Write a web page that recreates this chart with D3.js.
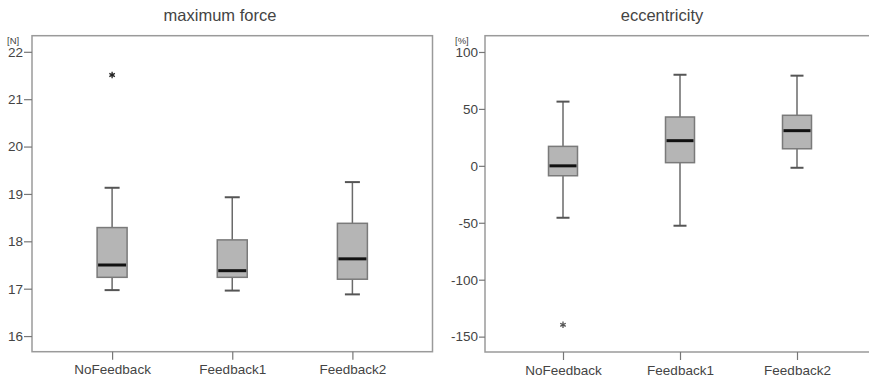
<!DOCTYPE html>
<html>
<head>
<meta charset="utf-8">
<script src="https://cdn.jsdelivr.net/npm/d3@7"></script>
<style>
  html, body { margin: 0; padding: 0; background: #fff; }
  svg { display: block; }
  text { font-family: "Liberation Sans", Arial, sans-serif; }
</style>
</head>
<body>
<svg id="chart" width="869" height="379"></svg>
<script>
// Groups shown on both panels
const categories = ["NoFeedback", "Feedback1", "Feedback2"];

// Maximum force [N]: whisker low, Q1, median, Q3, whisker high
const forceLow    = [16.97, 16.96, 16.88];
const forceQ1     = [17.24, 17.24, 17.20];
const forceMedian = [17.50, 17.38, 17.63];
const forceQ3     = [18.29, 18.03, 18.38];
const forceHigh   = [19.13, 18.93, 19.25];
const forceOutliers = [[21.51], [], []];
const forceTicks  = [16, 17, 18, 19, 20, 21, 22];

// Eccentricity [%]
const eccLow    = [-45.6, -52.6, -1.7];
const eccQ1     = [-8.7, 2.8, 15.0];
const eccMedian = [0.0, 22.1, 30.9];
const eccQ3     = [17.1, 42.9, 44.4];
const eccHigh   = [56.4, 80.0, 79.2];
const eccOutliers = [[-139.6], [], []];
const eccTicks  = [-150, -100, -50, 0, 50, 100];

const svg = d3.select("#chart");

function panel(opts) {
  const { title, unit, titleX, frame, domain, ticks, low, q1, med, q3, high, outliers, boxW, capW, tickLen } = opts;
  const g = svg.append("g");

  const x = d3.scalePoint().domain(categories).range([frame.x0, frame.x1]).padding(2 / 3);
  const y = d3.scaleLinear().domain(domain).range([frame.y1, frame.y0]);

  // title
  g.append("text")
    .attr("x", titleX).attr("y", 21)
    .attr("text-anchor", "middle")
    .attr("font-size", 16.5)
    .attr("fill", "#444")
    .text(title);

  // frame
  g.append("rect")
    .attr("x", frame.x0).attr("y", frame.y0)
    .attr("width", frame.x1 - frame.x0).attr("height", frame.y1 - frame.y0)
    .attr("fill", "none").attr("stroke", "#9a9a9a").attr("stroke-width", 1.5);

  // y axis (plain hyphen for negative numbers)
  const yAxis = g.append("g")
    .attr("transform", `translate(${frame.x0},0)`)
    .call(d3.axisLeft(y).tickValues(ticks).tickFormat(d => String(d)).tickSize(tickLen).tickPadding(1));
  yAxis.select(".domain").remove();
  yAxis.selectAll(".tick line").attr("stroke", "#777").attr("stroke-width", 1.2);
  yAxis.selectAll(".tick text").attr("font-size", 13.5).attr("fill", "#444")
    .attr("font-family", "Liberation Sans, Arial, sans-serif");

  // unit label
  g.append("text")
    .attr("x", opts.unitX).attr("y", 43.5)
    .attr("font-size", 9.5).attr("fill", "#444")
    .text(unit);

  // x axis
  const xAxis = g.append("g")
    .attr("transform", `translate(0,${frame.y1})`)
    .call(d3.axisBottom(x).tickSize(8).tickPadding(5));
  xAxis.select(".domain").remove();
  xAxis.selectAll(".tick line").attr("stroke", "#777").attr("stroke-width", 1.2);
  xAxis.selectAll(".tick text").attr("font-size", 13.5).attr("fill", "#444")
    .attr("font-family", "Liberation Sans, Arial, sans-serif");

  const rows = categories.map((c, i) => ({ c, low: low[i], q1: q1[i], med: med[i], q3: q3[i], high: high[i], out: outliers[i] }));
  const box = g.selectAll(".box").data(rows).enter().append("g").attr("class", "box");

  // whiskers
  box.append("line")
    .attr("x1", d => x(d.c)).attr("x2", d => x(d.c))
    .attr("y1", d => y(d.high)).attr("y2", d => y(d.q3))
    .attr("stroke", "#6a6a6a").attr("stroke-width", 1.5);
  box.append("line")
    .attr("x1", d => x(d.c)).attr("x2", d => x(d.c))
    .attr("y1", d => y(d.q1)).attr("y2", d => y(d.low))
    .attr("stroke", "#6a6a6a").attr("stroke-width", 1.5);
  // caps
  ["high", "low"].forEach(k => {
    box.append("line")
      .attr("x1", d => x(d.c) - capW / 2).attr("x2", d => x(d.c) + capW / 2)
      .attr("y1", d => y(d[k])).attr("y2", d => y(d[k]))
      .attr("stroke", "#555").attr("stroke-width", 2);
  });
  // box
  box.append("rect")
    .attr("x", d => x(d.c) - boxW / 2).attr("width", boxW)
    .attr("y", d => y(d.q3)).attr("height", d => y(d.q1) - y(d.q3))
    .attr("fill", "#b5b5b5").attr("stroke", "#7a7a7a").attr("stroke-width", 1.5);
  // median
  box.append("line")
    .attr("x1", d => x(d.c) - boxW / 2 + 1).attr("x2", d => x(d.c) + boxW / 2 - 1)
    .attr("y1", d => y(d.med)).attr("y2", d => y(d.med))
    .attr("stroke", "#111").attr("stroke-width", 3);
  // extreme values
  const star = d3.symbol().type(d3.symbolAsterisk).size(opts.starSize);
  box.selectAll(".out").data(d => d.out.map(v => ({ c: d.c, v }))).enter()
    .append("path")
    .attr("d", star)
    .attr("transform", d => `translate(${x(d.c)},${y(d.v)})`)
    .attr("fill", "none").attr("stroke", opts.starColor).attr("stroke-width", 1.3);
}

panel({
  title: "maximum force", unit: "[N]", titleX: 220, unitX: 7,
  frame: { x0: 32, x1: 432.5, y0: 35.7, y1: 351.7 },
  domain: [15.67, 22.34], ticks: forceTicks,
  low: forceLow, q1: forceQ1, med: forceMedian, q3: forceQ3, high: forceHigh, outliers: forceOutliers,
  boxW: 30, capW: 15, tickLen: 8, starSize: 28, starColor: "#222"
});

panel({
  title: "eccentricity", unit: "[%]", titleX: 662, unitX: 455,
  frame: { x0: 485, x1: 875, y0: 35.7, y1: 352 },
  domain: [-163.5, 114.3], ticks: eccTicks,
  low: eccLow, q1: eccQ1, med: eccMedian, q3: eccQ3, high: eccHigh, outliers: eccOutliers,
  boxW: 29, capW: 13, tickLen: 6, starSize: 28, starColor: "#555"
});
</script>
</body>
</html>
